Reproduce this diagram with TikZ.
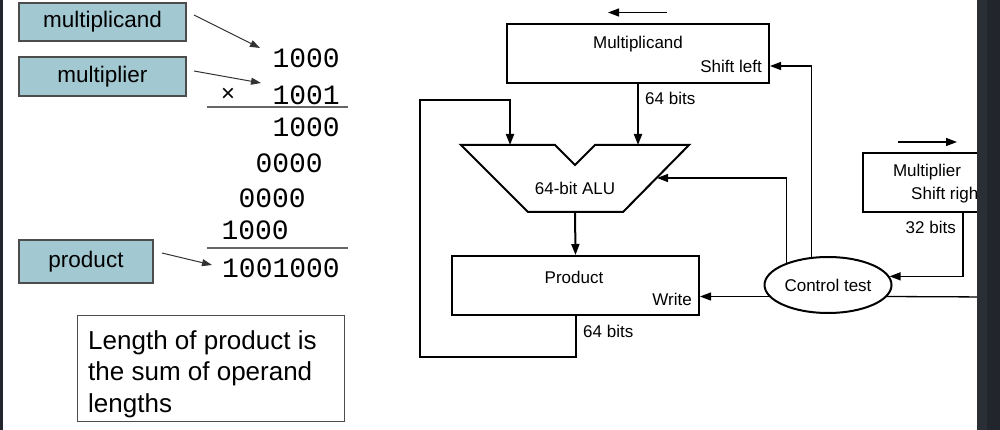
\documentclass[tikz,border=0pt]{standalone}
\usepackage{fontspec}
\setmainfont{Liberation Sans}
\newfontfamily\monofont{Liberation Mono}
\usetikzlibrary{arrows.meta,shapes.geometric}
\definecolor{labelblue}{HTML}{A2C8D1}
\definecolor{stripA}{HTML}{2A2E35}
\definecolor{stripB}{HTML}{22252B}
\begin{document}
\begin{tikzpicture}[x=1pt,y=-1pt,
  lbl/.style={draw=black!70, line width=1.2pt, fill=labelblue, inner sep=0pt, font=\fontsize{22.5}{26}\selectfont},
  num/.style={font=\monofont\fontsize{28}{30}\selectfont, inner sep=0pt, anchor=base east},
  ptr/.style={draw=black!80, line width=1pt, -{Triangle[length=10pt,width=7pt]}},
  reg/.style={draw, line width=2pt, inner sep=0pt},
  rtxt/.style={font=\fontsize{17}{19}\selectfont, inner sep=0pt},
  bus/.style={line width=2pt, -{Triangle[length=11pt,width=8pt]}},
  ctrl/.style={line width=1.3pt, -{Triangle[length=11pt,width=8pt]}},
  rule/.style={draw=black!60, line width=1.2pt},
]
\fill[white] (0,0) rectangle (1000,430);
\useasboundingbox (0,0) rectangle (1000,430);

% ---------- left: pencil and paper ----------
\node[lbl, minimum width=167pt, minimum height=38pt] (lmcand) at (102.5,22) {multiplicand};
\node[lbl, minimum width=167pt, minimum height=39pt] (lmier) at (102.5,76.5) {multiplier};
\node[lbl, minimum width=134pt, minimum height=43pt] (lprod) at (86,261.5) {product};

\node[num] (n1) at (340,68) {1000};
\node[num] (n2) at (340,105) {1001};
\node[font=\monofont\fontsize{24}{26}\selectfont, inner sep=0pt] (times) at (228,95) {×};
\node[num] (n3) at (340,137) {1000};
\node[num] (n4) at (323,173) {0000};
\node[num] (n5) at (306,208) {0000};
\node[num] (n6) at (289,240) {1000};
\node[num] (n7) at (340,277) {1001000};

\draw[rule] (207,107) -- (348,107);
\draw[rule] (207,248) -- (348,248);

\coordinate (a1s) at (194,15);  \coordinate (a1e) at (260,48);
\coordinate (a2s) at (194,71);  \coordinate (a2e) at (261,83);
\coordinate (a3s) at (162,253); \coordinate (a3e) at (212,265);
\draw[ptr] (a1s) -- (a1e);
\draw[ptr] (a2s) -- (a2e);
\draw[ptr] (a3s) -- (a3e);

\node[draw=black!70, line width=1pt, minimum width=267pt, minimum height=106pt, inner sep=0pt] (note) at (210.5,368) {};
\node[anchor=north west, align=left, font=\fontsize{26}{31.5}\selectfont, inner sep=0pt] (notetxt) at (88,330) {Length of product is\\the sum of operand\\lengths};

% ---------- right: hardware ----------
\node[reg, minimum width=262pt, minimum height=59pt] (mcand) at (638,53.5) {};
\node[rtxt] (mcandt) at (638,44) {Multiplicand};
\node[rtxt, anchor=east] (shl) at (762,66) {Shift left};
\coordinate (sla) at (667,12.5); \coordinate (slb) at (608,12.5);
\draw[ctrl] (sla) -- (slb);

% ALU
\coordinate (aluInA) at (510,145);
\coordinate (aluInB) at (638,145);
\coordinate (aluOut) at (575,212);
\coordinate (aluR) at (657,178);
\draw[line width=2pt, line join=miter] (461,145) -- (555,145) -- (575,165) -- (595,145) -- (689,145) -- (623,212) -- (528,212) -- cycle;
\node[rtxt] (alut) at (575,188) {64-bit ALU};

\draw[bus] (mcand.south) -- (aluInB);
\node[rtxt, anchor=west] (b1) at (645,98) {64 bits};

% Product
\node[reg, minimum width=247pt, minimum height=59pt] (prod) at (575.5,285.5) {};
\node[rtxt] (prodt) at (574,277) {Product};
\node[rtxt, anchor=east] (wr) at (692,299) {Write};
\draw[bus] (aluOut) -- (prod.north);
\coordinate (loopBL) at (420,357);
\coordinate (loopTR) at (510,100);
\draw[bus] (prod.south) |- (loopBL) |- (loopTR) -- (aluInA);
\node[rtxt, anchor=west] (b2) at (583,331) {64 bits};

% Control
\node[ellipse, draw, line width=2pt, minimum width=127pt, minimum height=56pt, inner sep=0pt, font=\fontsize{17}{19}\selectfont] (ctl) at (828,285) {Control test};
\draw[ctrl] (ctl.191.8) -- (ctl.191.8 -| prod.east);
\draw[ctrl] (ctl.152.4) |- (aluR);
\draw[ctrl] (ctl.120.6) |- (shl.east -| mcand.east);

% Multiplier
\node[reg, minimum width=137pt, minimum height=59pt] (mier) at (931.5,182.5) {};
\node[rtxt] (miert) at (927,172) {Multiplier};
\node[rtxt, anchor=west] (shr) at (911,195) {Shift right};
\coordinate (sra) at (898,142); \coordinate (srb) at (957,142);
\draw[ctrl] (sra) -- (srb);
\node[rtxt, anchor=east] (b3) at (956,227) {32 bits};
\coordinate (mierOut) at (963,212);
\draw[ctrl] (mierOut) |- (ctl.8.5);
\coordinate (offR) at (990,297);
\draw[line width=1.3pt] (ctl.-11.8) -- (offR);

% window edges
\fill[stripA] (977,0) rectangle (987,430);
\fill[stripB] (987,0) rectangle (1000,430);
\fill[stripB] (0,0) rectangle (3,430);
\end{tikzpicture}
\end{document}
